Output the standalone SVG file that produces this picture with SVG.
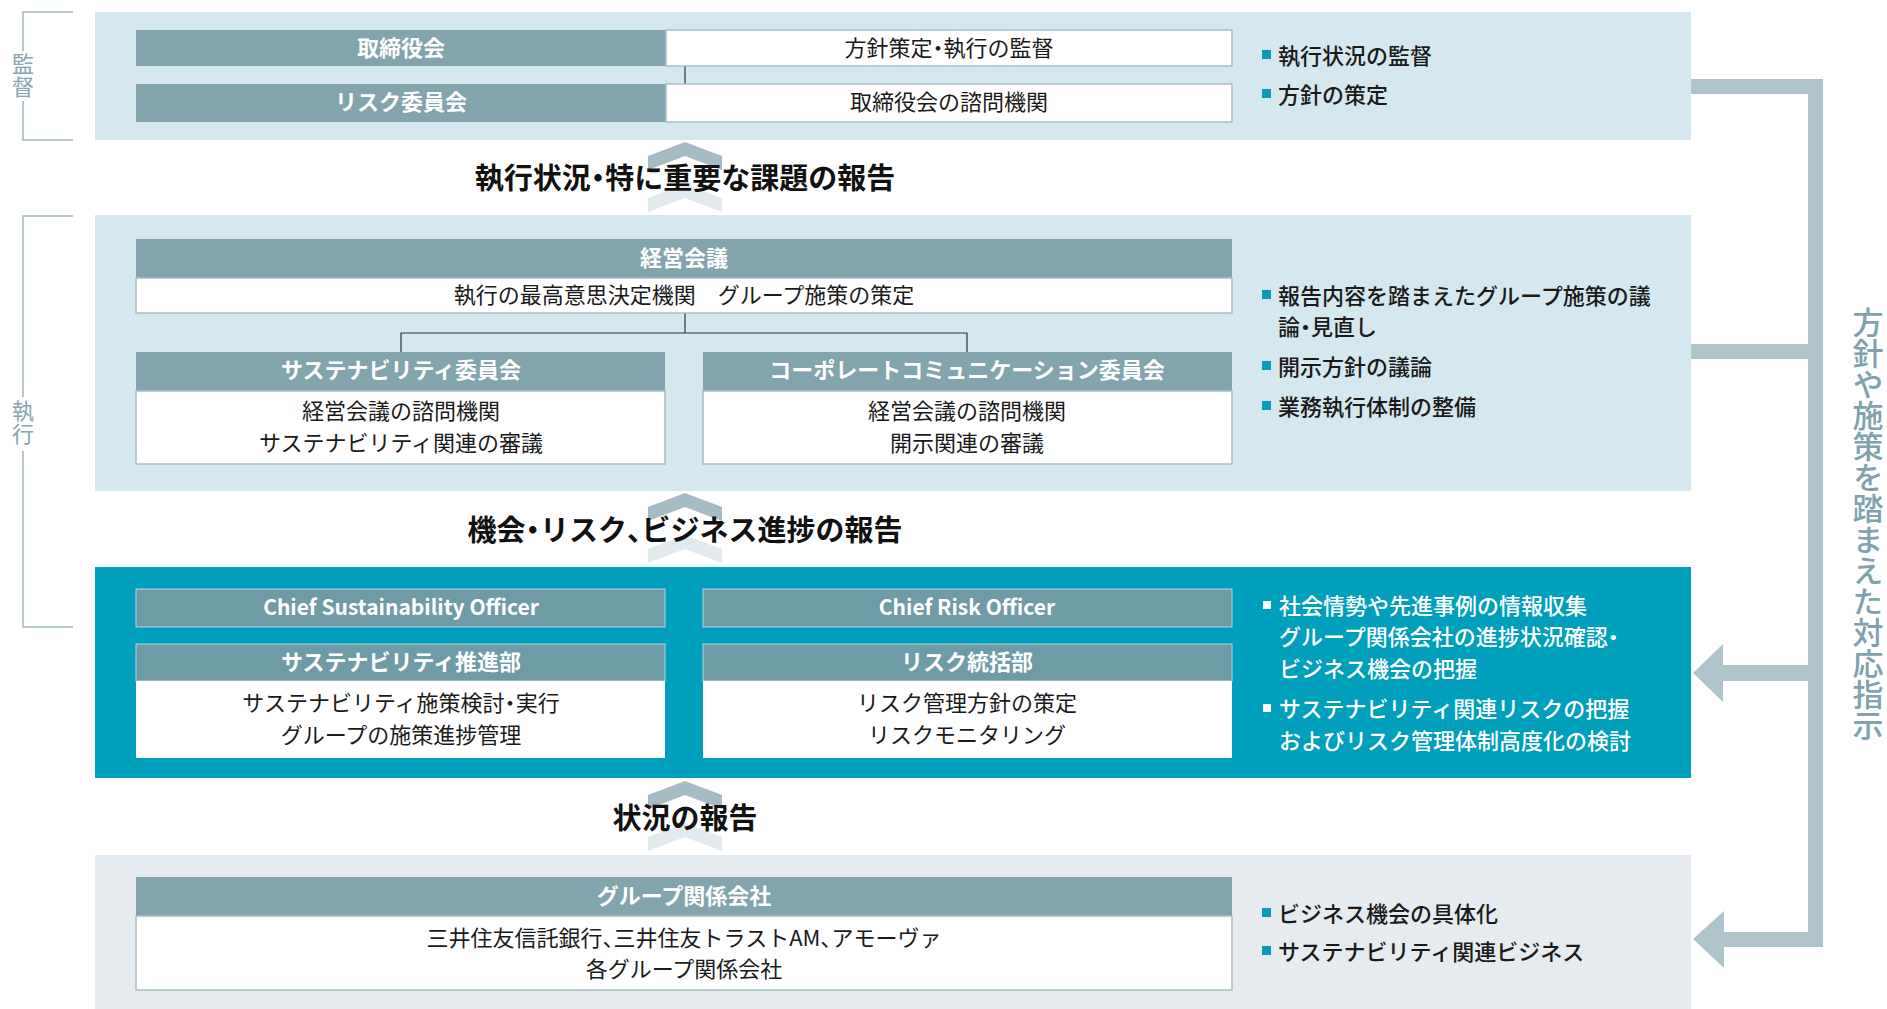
<svg xmlns="http://www.w3.org/2000/svg" width="1887" height="1009" viewBox="0 0 1887 1009">
<style>
text{font-family:"Noto Sans CJK JP","Noto Sans",sans-serif;dominant-baseline:central}
.pt{font-feature-settings:"palt"}
.hd{fill:#fff;font-size:22px;font-weight:700;text-anchor:middle}
.bd{fill:#1a1a1a;font-size:22px;text-anchor:middle}
.bl{fill:#1a1a1a;font-size:22px;font-weight:500}
.blw{fill:#fff;font-size:22px;font-weight:500}
.ch{fill:#111;font-size:29px;font-weight:700;text-anchor:middle}
.lab{fill:#86a6b0;font-size:22px;letter-spacing:1px;writing-mode:vertical-rl}
.vt{fill:#7fa2ad;font-size:31px;font-weight:500;writing-mode:vertical-rl}
.hbar{fill:#82a4ad}
.tbar{fill:#6f9ba6;stroke:#b3d3da;stroke-width:1}
.wbox{fill:#fff;stroke:#a7bec5;stroke-width:1.5}
.wbox2{fill:#fff}
.bul{fill:#0a9cb6}
.bulw{fill:#fff}
.ln{stroke:#333;stroke-width:1.2;fill:none}
.brk{stroke:#9db7bf;stroke-width:1.5;fill:none}
.band{fill:#afc3ca}
.cu{fill:#a6bbc3}
.cl{fill:#e3eaed}
.p1{fill:#d5e8ef}
.p3{fill:#009fbb}
.p4{fill:#e5ebee}
</style>
<defs>
<path id="chevP" d="M0,0 L37,14 V28 L0,14 L-37,28 V14 Z"/>
</defs>

<!-- side brackets -->
<g id="bracket-kantoku">
<path class="brk" d="M73,12 H23 V51 M23,101 V140 H73"/>
<text class="lab" x="23" y="53">監督</text>
</g>
<g id="bracket-shikko">
<path class="brk" d="M73,216 H23 V397 M23,451 V627 H73"/>
<text class="lab" x="23" y="400">執行</text>
</g>

<!-- panels -->
<g id="panel-supervision">
<rect class="p1" x="95" y="12" width="1596" height="128"/>
</g>
<g id="panel-execution">
<rect class="p1" x="95" y="215" width="1596" height="276"/>
</g>
<g id="panel-officers">
<rect class="p3" x="95" y="567" width="1596" height="211"/>
</g>
<g id="panel-group">
<rect class="p4" x="95" y="855" width="1596" height="154"/>
</g>

<!-- connectors -->
<g id="connectors">
<path class="ln" d="M685,66 V84"/>
<path class="ln" d="M685,313 V333 M401,352 V333 H967 V352"/>
<rect class="band" x="1691" y="79" width="132" height="15"/>
<rect class="band" x="1808" y="79" width="15" height="868"/>
<rect class="band" x="1691" y="344" width="117" height="15"/>
<polygon class="band" points="1693,673 1723,644 1723,665 1808,665 1808,681 1723,681 1723,702"/>
<polygon class="band" points="1693,939 1724,911 1724,932 1808,932 1808,947 1724,947 1724,968"/>
<g id="chev1">
<use href="#chevP" class="cu" x="685" y="142"/>
<use href="#chevP" class="cl" x="685" y="184"/>
<text class="ch" x="685" y="176">執行状況<tspan class="pt">・</tspan>特に重要な課題の報告</text>
</g>
<g id="chev2">
<use href="#chevP" class="cu" x="685" y="493"/>
<use href="#chevP" class="cl" x="685" y="535"/>
<text class="ch" x="685" y="528">機会<tspan class="pt">・</tspan>リスク<tspan class="pt">、</tspan>ビジネス進捗の報告</text>
</g>
<g id="chev3">
<use href="#chevP" class="cu" x="685" y="781"/>
<use href="#chevP" class="cl" x="685" y="823"/>
<text class="ch" x="685" y="816">状況の報告</text>
</g>
<text class="vt" x="1868" y="307">方針や施策を踏まえた対応指示</text>
</g>

<!-- supervision nodes -->
<g id="node-board">
<rect class="hbar" x="136" y="30" width="530" height="36"/>
<text class="hd" x="401" y="46">取締役会</text>
<rect class="wbox" x="666" y="30" width="566" height="36"/>
<text class="bd" x="949" y="46">方針策定<tspan class="pt">・</tspan>執行の監督</text>
</g>
<g id="node-risk-committee">
<rect class="hbar" x="136" y="84" width="530" height="38"/>
<text class="hd" x="401" y="100">リスク委員会</text>
<rect class="wbox" x="666" y="84" width="566" height="38"/>
<text class="bd" x="949" y="100">取締役会の諮問機関</text>
</g>
<g id="notes-supervision">
<rect class="bul" x="1262" y="50" width="9" height="9"/>
<text class="bl" x="1278" y="54">執行状況の監督</text>
<rect class="bul" x="1262" y="89" width="9" height="9"/>
<text class="bl" x="1278" y="93">方針の策定</text>
</g>

<!-- execution nodes -->
<g id="node-management-meeting">
<rect class="hbar" x="136" y="239" width="1096" height="39"/>
<text class="hd" x="684" y="256">経営会議</text>
<rect class="wbox" x="136" y="278" width="1096" height="35"/>
<text class="bd" x="684" y="293">執行の最高意思決定機関　グループ施策の策定</text>
</g>
<g id="node-sustainability-committee">
<rect class="hbar" x="136" y="352" width="529" height="39"/>
<text class="hd" x="401" y="368">サステナビリティ委員会</text>
<rect class="wbox" x="136" y="391" width="529" height="73"/>
<text class="bd" x="401" y="409">経営会議の諮問機関</text>
<text class="bd" x="401" y="441">サステナビリティ関連の審議</text>
</g>
<g id="node-corpcomm-committee">
<rect class="hbar" x="703" y="352" width="529" height="39"/>
<text class="hd" x="967" y="368">コーポレートコミュニケーション委員会</text>
<rect class="wbox" x="703" y="391" width="529" height="73"/>
<text class="bd" x="967" y="409">経営会議の諮問機関</text>
<text class="bd" x="967" y="441">開示関連の審議</text>
</g>
<g id="notes-execution">
<rect class="bul" x="1262" y="290" width="9" height="9"/>
<text class="bl" x="1278" y="294">報告内容を踏まえたグループ施策の議</text>
<text class="bl" x="1278" y="325">論<tspan class="pt">・</tspan>見直し</text>
<rect class="bul" x="1262" y="361" width="9" height="9"/>
<text class="bl" x="1278" y="365">開示方針の議論</text>
<rect class="bul" x="1262" y="401" width="9" height="9"/>
<text class="bl" x="1278" y="405">業務執行体制の整備</text>
</g>

<!-- officers nodes -->
<g id="node-cso">
<rect class="tbar" x="136" y="589" width="529" height="38"/>
<text class="hd" x="401" y="606" style="font-size:21px">Chief Sustainability Officer</text>
</g>
<g id="node-sustainability-dept">
<rect class="tbar" x="136" y="644" width="529" height="37"/>
<text class="hd" x="401" y="660">サステナビリティ推進部</text>
<rect class="wbox2" x="136" y="681" width="529" height="77"/>
<text class="bd" x="401" y="701">サステナビリティ施策検討<tspan class="pt">・</tspan>実行</text>
<text class="bd" x="401" y="733">グループの施策進捗管理</text>
</g>
<g id="node-cro">
<rect class="tbar" x="703" y="589" width="529" height="38"/>
<text class="hd" x="967" y="606" style="font-size:21px">Chief Risk Officer</text>
</g>
<g id="node-risk-dept">
<rect class="tbar" x="703" y="644" width="529" height="37"/>
<text class="hd" x="967" y="660">リスク統括部</text>
<rect class="wbox2" x="703" y="681" width="529" height="77"/>
<text class="bd" x="967" y="701">リスク管理方針の策定</text>
<text class="bd" x="967" y="733">リスクモニタリング</text>
</g>
<g id="notes-officers">
<rect class="bulw" x="1263" y="601" width="8" height="8"/>
<text class="blw" x="1279" y="604">社会情勢や先進事例の情報収集</text>
<text class="blw" x="1279" y="635">グループ関係会社の進捗状況確認<tspan class="pt">・</tspan></text>
<text class="blw" x="1279" y="667">ビジネス機会の把握</text>
<rect class="bulw" x="1263" y="704" width="8" height="8"/>
<text class="blw" x="1279" y="707">サステナビリティ関連リスクの把握</text>
<text class="blw" x="1279" y="739">およびリスク管理体制高度化の検討</text>
</g>

<!-- group companies -->
<g id="node-group-companies">
<rect class="hbar" x="136" y="877" width="1096" height="39"/>
<text class="hd" x="684" y="894">グループ関係会社</text>
<rect class="wbox" x="136" y="916" width="1096" height="74"/>
<text class="bd" x="684" y="936">三井住友信託銀行<tspan class="pt">、</tspan>三井住友トラストAM<tspan class="pt">、</tspan>アモーヴァ</text>
<text class="bd" x="684" y="967">各グループ関係会社</text>
</g>
<g id="notes-group">
<rect class="bul" x="1262" y="908" width="9" height="9"/>
<text class="bl" x="1278" y="912">ビジネス機会の具体化</text>
<rect class="bul" x="1262" y="946" width="9" height="9"/>
<text class="bl" x="1278" y="950">サステナビリティ関連ビジネス</text>
</g>
</svg>
